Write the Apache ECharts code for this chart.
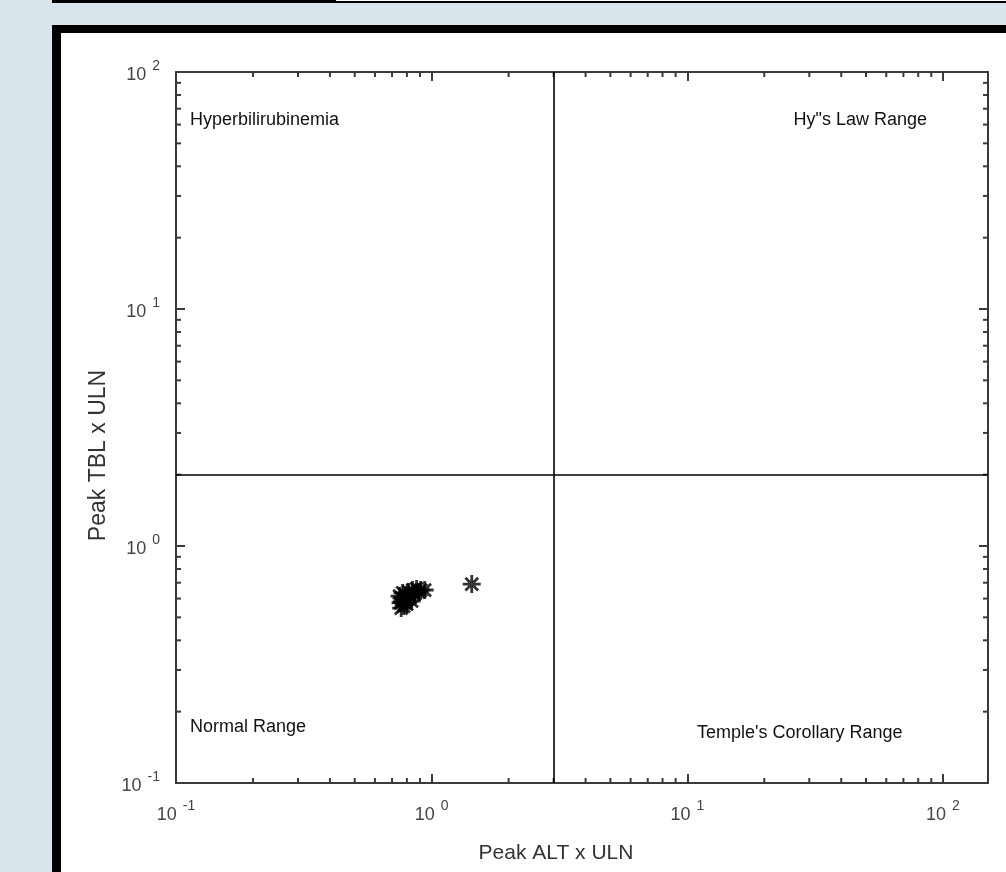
<!DOCTYPE html>
<html>
<head>
<meta charset="utf-8">
<script src="https://cdn.jsdelivr.net/npm/echarts@6/dist/echarts.min.js"></script>
<style>
html,body{margin:0;padding:0;background:#dae5eb;}
#chart{width:1006px;height:872px;}
</style>
</head>
<body>
<div id="chart"></div>
<script>
// ---- data ----
const altValues = [0.749, 0.756, 0.763, 0.770, 0.777, 0.784, 0.791, 0.798, 0.805, 0.812, 0.827, 0.835, 0.842, 0.858, 0.873, 0.889, 0.906, 0.939, 0.760, 0.790, 1.435];
const tblValues = [0.615, 0.575, 0.603, 0.634, 0.558, 0.592, 0.621, 0.569, 0.597, 0.640, 0.609, 0.586, 0.652, 0.627, 0.659, 0.640, 0.652, 0.652, 0.547, 0.603, 0.691];
const altLimit = 3;   // ALT 3x ULN
const tblLimit = 2;   // TBL 2x ULN
const xMinorTicks = [0.2,0.3,0.4,0.5,0.6,0.7,0.8,0.9,2,3,4,5,6,7,8,9,20,30,40,50,60,70,80,90];
const yMinorTicks = [0.2,0.3,0.4,0.5,0.6,0.7,0.8,0.9,2,3,4,5,6,7,8,9,20,30,40,50,60,70,80,90];
const quadrantLabels = ['Hyperbilirubinemia', 'Hy"s Law Range', 'Normal Range', "Temple's Corollary Range"];
const xName = 'Peak ALT x ULN';
const yName = 'Peak TBL x ULN';

const FONT = "'Liberation Sans', Arial, sans-serif";
const AXIS_COLOR = '#3a3a3a';

function powLabel(v) {
  const l = Math.log10(v);
  const e = Math.round(l);
  if (Math.abs(l - e) > 1e-6) return '';
  return '{b|10}{s|' + e + '}';
}
const labelRich = {
  b: {fontSize: 18, fontFamily: FONT, color: '#444', padding: [7, 0, 0, 0]},
  s: {fontSize: 14, fontFamily: FONT, color: '#444', verticalAlign: 'top', padding: [0, 0, 0, 6]}
};

function baseAxis(extra) {
  return Object.assign({
    type: 'log', logBase: 10, min: 0.1,
    axisLine: {show: true, onZero: false, lineStyle: {color: AXIS_COLOR, width: 2}},
    axisTick: {show: true, inside: true, length: 9, lineStyle: {color: AXIS_COLOR, width: 2}},
    splitLine: {show: false},
    minorTick: {show: false},
    minorSplitLine: {show: false}
  }, extra);
}

const chart = echarts.init(document.getElementById('chart'), null, {renderer: 'canvas'});

function minorTickSeries(values, isX) {
  return {
    type: 'custom',
    coordinateSystem: 'cartesian2d',
    xAxisIndex: 0, yAxisIndex: 0,
    silent: true, clip: false, animation: false,
    data: values.map(v => isX ? [v, 1] : [1, v]),
    renderItem: function (params, api) {
      const cs = params.coordSys;
      const st = {stroke: AXIS_COLOR, lineWidth: 2};
      if (isX) {
        const x = api.coord([api.value(0), 1])[0];
        return {type: 'group', children: [
          {type: 'line', shape: {x1: x, y1: cs.y + cs.height, x2: x, y2: cs.y + cs.height - 5}, style: st},
          {type: 'line', shape: {x1: x, y1: cs.y, x2: x, y2: cs.y + 5}, style: st}
        ]};
      } else {
        const y = api.coord([1, api.value(1)])[1];
        return {type: 'group', children: [
          {type: 'line', shape: {x1: cs.x, y1: y, x2: cs.x + 5, y2: y}, style: st},
          {type: 'line', shape: {x1: cs.x + cs.width, y1: y, x2: cs.x + cs.width - 5, y2: y}, style: st}
        ]};
      }
    }
  };
}

const starPath = 'path://M0,-10L0,10M-10,0L10,0M-7.07,-7.07L7.07,7.07M-7.07,7.07L7.07,-7.07';

const txt = (text, x, y, align) => ({
  type: 'text', x: x, y: y, silent: true,
  style: {text: text, x: 0, y: 0, fill: '#111', font: '18px ' + FONT, align: align, verticalAlign: 'middle'}
});

const option = {
  backgroundColor: '#dae5eb',
  animation: false,
  graphic: [
    {type: 'rect', shape: {x: 52, y: 0, width: 954, height: 3}, style: {fill: '#000'}, silent: true, z: -10},
    {type: 'rect', shape: {x: 336, y: 0, width: 670, height: 1}, style: {fill: '#fff'}, silent: true, z: -10},
    {type: 'rect', shape: {x: 52, y: 25, width: 1000, height: 900}, style: {fill: '#000'}, silent: true, z: -10},
    {type: 'rect', shape: {x: 61, y: 33, width: 1000, height: 900}, style: {fill: '#fff'}, silent: true, z: -9},
    txt(quadrantLabels[0], 190, 120, 'left'),
    txt(quadrantLabels[1], 927, 120, 'right'),
    txt(quadrantLabels[2], 190, 727, 'left'),
    txt(quadrantLabels[3], 697, 733, 'left')
  ],
  grid: {left: 176, right: 18, top: 72, bottom: 89, containLabel: false},
  xAxis: [
    baseAxis({
      position: 'bottom', max: 150,
      name: xName, nameLocation: 'middle', nameGap: 60,
      nameTextStyle: {fontSize: 21, fontFamily: FONT, color: '#333', padding: [0, 52, 0, 0]},
      axisLabel: {show: true, margin: 16, formatter: powLabel, rich: labelRich, showMaxLabel: false, hideOverlap: false}
    }),
    baseAxis({position: 'top', max: 150, axisLabel: {show: false}})
  ],
  yAxis: [
    baseAxis({
      position: 'left', max: 100,
      name: yName, nameLocation: 'middle', nameGap: 66, nameRotate: 90,
      nameTextStyle: {fontSize: 23, fontFamily: FONT, color: '#333', padding: [0, 56, 0, 0]},
      axisLabel: {show: true, margin: 16, formatter: powLabel, rich: labelRich, hideOverlap: false}
    }),
    baseAxis({position: 'right', max: 100, axisLabel: {show: false}})
  ],
  series: [
    {
      type: 'scatter',
      xAxisIndex: 0, yAxisIndex: 0,
      data: altValues.map((v, i) => [v, tblValues[i]]),
      symbol: starPath,
      symbolSize: 18,
      itemStyle: {color: '#000', borderColor: '#000', borderWidth: 2.8},
      silent: true,
      markLine: {
        silent: true, symbol: ['none', 'none'], label: {show: false},
        lineStyle: {color: '#000', width: 1.6, type: 'solid'},
        data: [{xAxis: altLimit}, {yAxis: tblLimit}]
      }
    },
    minorTickSeries(xMinorTicks, true),
    minorTickSeries(yMinorTicks, false)
  ]
};
chart.setOption(option);
</script>
</body>
</html>
